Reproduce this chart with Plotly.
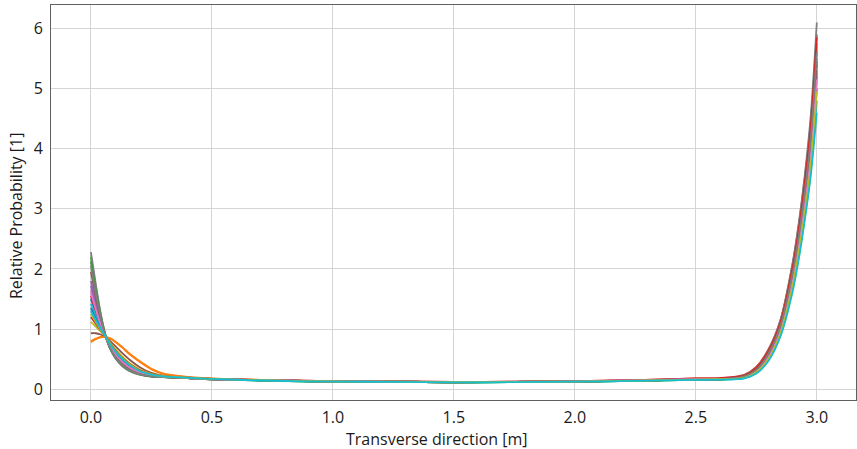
import plotly.graph_objects as go

# Transverse positions [m]
x_pos = [0.0, 0.02, 0.04, 0.06, 0.08, 0.1, 0.13, 0.16, 0.2, 0.25, 0.3, 0.4, 0.5,
         0.75, 1.0, 1.25, 1.5, 1.75, 2.0, 2.25, 2.5, 2.6,
         2.7, 2.75, 2.8, 2.85, 2.9, 2.925, 2.95, 2.975, 3.0]

# Relative probability for each simulated case
y_00 = [1.50, 1.27, 1.06, 0.88, 0.72, 0.60, 0.47, 0.37, 0.29, 0.235, 0.21, 0.19, 0.17,
        0.145, 0.128, 0.125, 0.115, 0.120, 0.127, 0.140, 0.160, 0.165,
        0.20, 0.31, 0.56, 1.02, 1.87, 2.47, 3.18, 4.04, 5.40]
y_01 = [0.80, 0.84, 0.87, 0.87, 0.84, 0.79, 0.69, 0.58, 0.46, 0.33, 0.255, 0.20, 0.175,
        0.150, 0.130, 0.127, 0.118, 0.122, 0.130, 0.145, 0.165, 0.170,
        0.21, 0.32, 0.59, 1.06, 1.93, 2.53, 3.27, 4.18, 5.60]
y_02 = [2.20, 1.70, 1.25, 0.90, 0.67, 0.53, 0.39, 0.31, 0.245, 0.21, 0.20, 0.185, 0.165,
        0.140, 0.125, 0.122, 0.112, 0.118, 0.124, 0.137, 0.155, 0.158,
        0.21, 0.31, 0.58, 1.04, 1.90, 2.50, 3.22, 4.10, 5.50]
y_03 = [1.55, 1.30, 1.07, 0.88, 0.715, 0.59, 0.46, 0.365, 0.287, 0.232, 0.209, 0.189, 0.169,
        0.150, 0.132, 0.130, 0.120, 0.125, 0.133, 0.150, 0.178, 0.185,
        0.24, 0.37, 0.66, 1.15, 2.08, 2.72, 3.50, 4.45, 5.90]
y_04 = [1.80, 1.45, 1.13, 0.88, 0.69, 0.56, 0.43, 0.34, 0.27, 0.22, 0.205, 0.185, 0.165,
        0.150, 0.130, 0.127, 0.118, 0.122, 0.130, 0.145, 0.165, 0.170,
        0.21, 0.31, 0.56, 1.01, 1.84, 2.42, 3.10, 3.93, 5.20]
y_05 = [0.93, 0.93, 0.91, 0.87, 0.80, 0.72, 0.60, 0.49, 0.37, 0.27, 0.225, 0.195, 0.17,
        0.145, 0.128, 0.125, 0.115, 0.120, 0.127, 0.140, 0.160, 0.165,
        0.20, 0.30, 0.55, 1.00, 1.85, 2.45, 3.15, 4.00, 5.30]
y_06 = [1.65, 1.36, 1.09, 0.88, 0.705, 0.58, 0.45, 0.355, 0.28, 0.228, 0.207, 0.187, 0.167,
        0.150, 0.130, 0.127, 0.118, 0.122, 0.130, 0.145, 0.165, 0.170,
        0.19, 0.29, 0.52, 0.96, 1.77, 2.35, 3.02, 3.83, 5.10]
y_07 = [2.28, 1.75, 1.27, 0.91, 0.67, 0.52, 0.38, 0.30, 0.24, 0.21, 0.20, 0.185, 0.165,
        0.145, 0.128, 0.125, 0.115, 0.120, 0.127, 0.140, 0.160, 0.165,
        0.23, 0.36, 0.65, 1.15, 2.10, 2.75, 3.55, 4.55, 6.10]
y_08 = [1.12, 1.04, 0.96, 0.88, 0.77, 0.67, 0.54, 0.43, 0.33, 0.25, 0.22, 0.19, 0.17,
        0.145, 0.128, 0.125, 0.115, 0.120, 0.127, 0.140, 0.160, 0.165,
        0.21, 0.33, 0.61, 1.08, 1.97, 2.58, 3.33, 4.26, 5.70]
y_09 = [1.42, 1.22, 1.04, 0.88, 0.73, 0.61, 0.48, 0.38, 0.295, 0.238, 0.211, 0.19, 0.17,
        0.140, 0.125, 0.122, 0.112, 0.118, 0.124, 0.137, 0.155, 0.158,
        0.18, 0.27, 0.48, 0.90, 1.67, 2.21, 2.85, 3.62, 4.80]
y_10 = [1.35, 1.18, 1.02, 0.88, 0.74, 0.625, 0.495, 0.39, 0.30, 0.24, 0.212, 0.19, 0.17,
        0.145, 0.128, 0.125, 0.115, 0.120, 0.127, 0.140, 0.160, 0.165,
        0.19, 0.28, 0.51, 0.94, 1.74, 2.30, 2.96, 3.76, 5.00]
y_11 = [0.78, 0.83, 0.86, 0.87, 0.845, 0.795, 0.70, 0.59, 0.47, 0.34, 0.26, 0.205, 0.178,
        0.150, 0.130, 0.127, 0.118, 0.122, 0.130, 0.145, 0.165, 0.170,
        0.21, 0.33, 0.60, 1.07, 1.95, 2.56, 3.30, 4.22, 5.65]
y_12 = [2.12, 1.65, 1.22, 0.89, 0.67, 0.535, 0.395, 0.315, 0.25, 0.212, 0.20, 0.185, 0.165,
        0.140, 0.125, 0.122, 0.112, 0.118, 0.124, 0.137, 0.155, 0.158,
        0.22, 0.34, 0.62, 1.09, 1.99, 2.60, 3.36, 4.30, 5.75]
y_13 = [1.20, 1.09, 0.98, 0.88, 0.76, 0.65, 0.52, 0.42, 0.32, 0.248, 0.217, 0.19, 0.17,
        0.150, 0.132, 0.130, 0.120, 0.125, 0.133, 0.150, 0.178, 0.185,
        0.22, 0.35, 0.63, 1.11, 2.02, 2.64, 3.42, 4.38, 5.85]
y_14 = [1.72, 1.40, 1.11, 0.88, 0.70, 0.57, 0.44, 0.35, 0.275, 0.225, 0.206, 0.186, 0.166,
        0.150, 0.130, 0.127, 0.118, 0.122, 0.130, 0.145, 0.165, 0.170,
        0.20, 0.30, 0.54, 0.99, 1.83, 2.42, 3.11, 3.95, 5.25]
y_15 = [1.95, 1.54, 1.17, 0.885, 0.685, 0.55, 0.41, 0.33, 0.26, 0.218, 0.202, 0.185, 0.165,
        0.145, 0.128, 0.125, 0.115, 0.120, 0.127, 0.140, 0.160, 0.165,
        0.20, 0.31, 0.57, 1.03, 1.88, 2.48, 3.20, 4.07, 5.45]
y_16 = [1.60, 1.33, 1.08, 0.88, 0.71, 0.585, 0.455, 0.36, 0.283, 0.23, 0.208, 0.188, 0.168,
        0.150, 0.130, 0.127, 0.118, 0.122, 0.130, 0.145, 0.165, 0.170,
        0.19, 0.29, 0.53, 0.97, 1.79, 2.37, 3.05, 3.87, 5.15]
y_17 = [2.05, 1.60, 1.20, 0.89, 0.68, 0.54, 0.40, 0.32, 0.25, 0.215, 0.20, 0.185, 0.165,
        0.145, 0.128, 0.125, 0.115, 0.120, 0.127, 0.140, 0.160, 0.165,
        0.21, 0.32, 0.59, 1.06, 1.93, 2.53, 3.27, 4.18, 5.60]
y_18 = [1.25, 1.12, 0.99, 0.88, 0.75, 0.64, 0.51, 0.41, 0.31, 0.245, 0.215, 0.19, 0.17,
        0.145, 0.128, 0.125, 0.115, 0.120, 0.127, 0.140, 0.160, 0.165,
        0.19, 0.28, 0.50, 0.93, 1.72, 2.28, 2.93, 3.72, 4.95]
y_19 = [1.30, 1.15, 1.005, 0.88, 0.745, 0.632, 0.503, 0.40, 0.305, 0.243, 0.213, 0.19, 0.17,
        0.140, 0.125, 0.122, 0.112, 0.118, 0.124, 0.137, 0.155, 0.158,
        0.18, 0.26, 0.47, 0.88, 1.62, 2.15, 2.80, 3.55, 4.60]

series = [y_00, y_01, y_02, y_03, y_04, y_05, y_06, y_07, y_08, y_09,
          y_10, y_11, y_12, y_13, y_14, y_15, y_16, y_17, y_18, y_19]

palette = ["#1f77b4", "#ff7f0e", "#2ca02c", "#d62728", "#9467bd",
           "#8c564b", "#e377c2", "#7f7f7f", "#bcbd22", "#17becf"]

x_ticks = [0.0, 0.5, 1.0, 1.5, 2.0, 2.5, 3.0]
y_ticks = [0, 1, 2, 3, 4, 5, 6]
x_title = "Transverse direction [m]"
y_title = "Relative Probability [1]"

fig = go.Figure()
for i, ys in enumerate(series):
    fig.add_trace(go.Scatter(
        x=x_pos, y=ys, mode="lines",
        line=dict(color=palette[i % 10], width=1.8, shape="spline", smoothing=0.8),
        showlegend=False, hoverinfo="skip"))

font_family = "Open Sans, Noto Sans, sans-serif"
fig.update_layout(
    width=857, height=449,
    margin=dict(l=51, r=1, t=5, b=49, autoexpand=False),
    paper_bgcolor="white", plot_bgcolor="white",
    font=dict(family=font_family, size=16, color="#1a1a1a"),
    showlegend=False,
    annotations=[
        dict(text=x_title, xref="paper", yref="paper", x=0.479, y=-0.0975,
             xanchor="center", yanchor="middle", showarrow=False,
             font=dict(size=16)),
        dict(text=y_title, xref="paper", yref="paper", x=-0.0435, y=0.468,
             xanchor="center", yanchor="middle", showarrow=False, textangle=-90,
             font=dict(size=16)),
    ],
)
fig.update_xaxes(
    range=[-0.165, 3.162], automargin=False,
    tickvals=x_ticks, ticktext=[f"{v:.1f}" for v in x_ticks],
    showgrid=True, gridcolor="#d4d4d4", gridwidth=1,
    zeroline=False, showline=True, linecolor="#606060", linewidth=1, mirror=True,
    ticks="", ticklabelstandoff=3,
)
fig.update_yaxes(
    range=[-0.18, 6.39], automargin=False,
    tickvals=y_ticks, ticktext=[str(v) for v in y_ticks],
    showgrid=True, gridcolor="#d4d4d4", gridwidth=1,
    zeroline=False, showline=True, linecolor="#606060", linewidth=1, mirror=True,
    ticks="", ticklabelstandoff=4,
)

fig.write_html(
    "out.html",
    config={"displayModeBar": False},
    post_script="document.body.style.margin='0';document.body.style.overflow='hidden';",
)
